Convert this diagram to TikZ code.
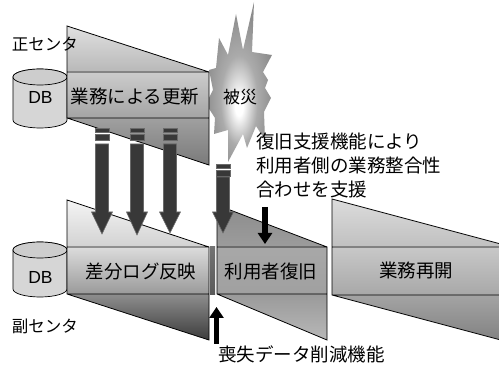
\documentclass[tikz,border=0pt]{standalone}
\usepackage{fontspec}
\setmainfont{Noto Sans CJK JP}
\newfontfamily\latinfont{Liberation Sans}
\usetikzlibrary{arrows.meta}

% fan shading colours: TT/TB upper wedge, RT/RB band, BT/BB lower wedge
\definecolor{upTT}{HTML}{E0E0E0}\definecolor{upTB}{HTML}{B8B8B8}
\definecolor{upRT}{HTML}{CCCCCC}\definecolor{upRB}{HTML}{A4A4A4}
\definecolor{upBT}{HTML}{A0A0A0}\definecolor{upBB}{HTML}{7A7A7A}
\definecolor{lgTT}{HTML}{F4F4F4}\definecolor{lgTB}{HTML}{D2D2D2}
\definecolor{lgRT}{HTML}{DCDCDC}\definecolor{lgRB}{HTML}{9A9A9A}
\definecolor{lgBT}{HTML}{8E8E8E}\definecolor{lgBB}{HTML}{3C3C3C}
\definecolor{usTT}{HTML}{8C8C8C}\definecolor{usTB}{HTML}{9C9C9C}
\definecolor{usRT}{HTML}{A8A8A8}\definecolor{usRB}{HTML}{A0A0A0}
\definecolor{usBT}{HTML}{9A9A9A}\definecolor{usBB}{HTML}{B8B8B8}
\definecolor{rsTT}{HTML}{DCDCDC}\definecolor{rsTB}{HTML}{C0C0C0}
\definecolor{rsRT}{HTML}{C8C8C8}\definecolor{rsRB}{HTML}{A8A8A8}
\definecolor{rsBT}{HTML}{A4A4A4}\definecolor{rsBB}{HTML}{808080}
\definecolor{cylbody}{HTML}{D6D6D6}
\definecolor{cyltop}{HTML}{CDCDCD}
\definecolor{arrowfill}{HTML}{383838}
\definecolor{arrowedge}{HTML}{6A6A6A}
\definecolor{burstout}{HTML}{8C8C8C}
\definecolor{burstmid}{HTML}{ABABAB}

\pgfdeclareradialshading{burst}{\pgfpoint{0bp}{-8bp}}{%
  color(0bp)=(white); color(3bp)=(white); color(14bp)=(burstmid);
  color(26bp)=(burstout); color(50bp)=(burstout)}

\tikzset{
  fanline/.style={draw=black, line width=0.8pt, line join=miter},
  label/.style={inner sep=0pt, font=\fontsize{18.5}{24}\selectfont},
  sitelabel/.style={inner sep=0pt, font=\fontsize{16.5}{20}\selectfont},
  dblabel/.style={inner sep=0pt, font=\latinfont\fontsize{17.5}{20}\selectfont},
  blockarrow/.style={fill=arrowfill, draw=arrowedge, line width=0.6pt},
  pointer/.style={line width=5.5pt, -{Triangle[width=14pt,length=11pt]}},
}

% fan: left x, right x, top-left y, band top, band bottom, bottom-right y, colour set
\newcommand\fanshape[7]{%
  \shade[top color=#7TT, bottom color=#7TB] (#1,#3) -- (#2,#4) -- (#1,#4) -- cycle;
  \shade[top color=#7RT, bottom color=#7RB] (#1,#4) rectangle (#2,#5);
  \shade[top color=#7BT, bottom color=#7BB] (#1,#5) -- (#2,#5) -- (#2,#6) -- cycle;
  \path[fanline] (#1,#3) -- (#2,#4) -- (#2,#6) -- (#1,#5) -- cycle
    (#1,#4) -- (#2,#4) (#1,#5) -- (#2,#5);
}

% database cylinder: centre x, top ellipse y, bottom ellipse y
\newcommand\dbcyl[3]{%
  \filldraw[fill=cylbody, draw=black, line width=0.7pt]
    ({#1-27},#2) -- ({#1-27},#3)
    arc[start angle=180, end angle=360, x radius=27pt, y radius=8pt]
    -- ({#1+27},#2)
    arc[start angle=0, end angle=180, x radius=27pt, y radius=8pt] -- cycle;
  \filldraw[fill=cyltop, draw=black, line width=0.7pt]
    (#1,#2) ellipse [x radius=27pt, y radius=8pt];
}

% broken-top block arrow: x, first dash y, shaft top, head base, tip
\newcommand\blockarr[5]{%
  \path[blockarrow] ({#1-7},#2) rectangle ({#1+7},{#2+4});
  \path[blockarrow] ({#1-7},{#2+6}) rectangle ({#1+7},{#2+12});
  \path[blockarrow] ({#1-6.5},#3) -- ({#1-6.5},#4) -- ({#1-10.5},#4) -- (#1,#5)
    -- ({#1+10.5},#4) -- ({#1+6.5},#4) -- ({#1+6.5},#3) -- cycle;
}

\begin{document}
\begin{tikzpicture}[x=1pt, y=-1pt]
\useasboundingbox (0,0) rectangle (499,366);
\fill[white] (0,0) rectangle (499,366);
\clip (0,0) rectangle (499,366);

% disaster burst
\path[shading=burst]
  (254,2) -- (252,52) -- (272,55) -- (263,72) -- (268,80) -- (265,88)
  -- (271,98) -- (264,112) -- (265,140) -- (256,126) -- (247,148)
  -- (243,134) -- (228,162) -- (228,130) -- (214,134) -- (215,118)
  -- (206,104) -- (213,90) -- (209,70) -- (216,68) -- (219,38)
  -- (228,55) -- (236,14) -- (243,50) -- cycle;

% primary site
\dbcyl{40}{77}{120}
\fanshape{67}{209}{26}{72}{118}{165}{up}

% secondary site
\dbcyl{40}{250}{289}
\fanshape{67}{209}{200}{247}{294}{340}{lg}
\shade[top color=gray!110, bottom color=black!65] (210,247) rectangle (215,295);
\fanshape{217}{327}{205}{247}{294}{340}{us}
\fanshape{332}{512}{199}{247}{295}{343}{rs}

% log transfer arrows
\blockarr{102}{128}{144}{212}{234}
\blockarr{137}{128}{144}{212}{235}
\blockarr{170}{128}{144}{212}{233}
\blockarr{223}{164}{177}{212}{233}

% labels
\node[sitelabel] (primary) at (45,44) {正センタ};
\node[sitelabel] (secondary) at (45,326) {副センタ};
\node[dblabel] (dbP) at (40.5,97) {DB};
\node[dblabel] (dbS) at (40.5,277) {DB};
\node[label] (update) at (135,97) {業務による更新};
\node[inner sep=0pt, font=\fontsize{17}{20}\selectfont] (disaster) at (240,97) {被災};
\node[label] (replay) at (141,271) {差分ログ反映};
\node[label] (userrec) at (271,271) {利用者復旧};
\node[label] (resume) at (416,270) {業務再開};
\node[label, anchor=base west] (supportA) at (256,149) {復旧支援機能により};
\node[label, anchor=base west] (supportB) at (256,173) {利用者側の業務整合性};
\node[label, anchor=base west] (supportC) at (256,197) {合わせを支援};
\node[label, anchor=west] (reduce) at (218,354) {喪失データ削減機能};

% pointer arrows
\coordinate (supS) at (265,207);
\coordinate (supE) at (265,244);
\coordinate (redS) at (216.5,344);
\coordinate (redE) at (216.5,307);
\draw[pointer] (supS) -- (supE);
\draw[pointer] (redS) -- (redE);
\end{tikzpicture}
\end{document}
